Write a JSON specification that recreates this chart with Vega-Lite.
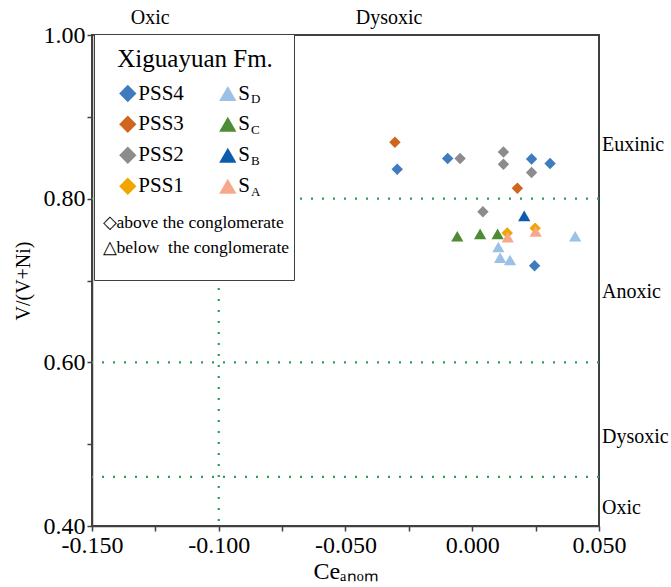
{
  "$schema": "https://vega.github.io/schema/vega-lite/v6.json",
  "width": 507,
  "height": 491,
  "autosize": {"type": "none"},
  "padding": {"left": 92, "top": 35, "right": 72, "bottom": 61},
  "background": "white",
  "config": {
    "view": {"stroke": "#404040", "strokeWidth": 2},
    "axis": {
      "labelFont": "Liberation Serif", "titleFont": "Liberation Serif",
      "labelColor": "black", "titleColor": "black", "titleFontWeight": "normal",
      "domainColor": "#404040", "domainWidth": 1.5, "tickColor": "#404040", "tickWidth": 1.5, "grid": false
    },
    "axisX": {"labelFont": "Liberation Serif", "titleFont": "Liberation Serif"},
    "axisY": {"labelFont": "Liberation Serif", "titleFont": "Liberation Serif"},
    "axisQuantitative": {"labelFont": "Liberation Serif", "titleFont": "Liberation Serif"},
    "legend": {
      "labelFont": "Liberation Serif", "titleFont": "Liberation Serif",
      "titleFontWeight": "normal", "labelColor": "black", "titleColor": "black"
    }
  },
  "datasets": {
    "samples": [
      {"unit": "PSS4", "position": "above", "ce": -0.0296, "v": 0.836},
      {"unit": "PSS4", "position": "above", "ce": -0.0097, "v": 0.849},
      {"unit": "PSS4", "position": "above", "ce": 0.0234, "v": 0.8485},
      {"unit": "PSS4", "position": "above", "ce": 0.0307, "v": 0.843},
      {"unit": "PSS4", "position": "above", "ce": 0.0246, "v": 0.718},
      {"unit": "PSS3", "position": "above", "ce": -0.0305, "v": 0.869},
      {"unit": "PSS3", "position": "above", "ce": 0.0178, "v": 0.8127},
      {"unit": "PSS2", "position": "above", "ce": -0.0048, "v": 0.849},
      {"unit": "PSS2", "position": "above", "ce": 0.0123, "v": 0.857},
      {"unit": "PSS2", "position": "above", "ce": 0.0123, "v": 0.842},
      {"unit": "PSS2", "position": "above", "ce": 0.0234, "v": 0.832},
      {"unit": "PSS2", "position": "above", "ce": 0.0042, "v": 0.784},
      {"unit": "PSS1", "position": "above", "ce": 0.0138, "v": 0.758},
      {"unit": "PSS1", "position": "above", "ce": 0.0248, "v": 0.764},
      {"unit": "SD", "position": "below", "ce": 0.0103, "v": 0.741},
      {"unit": "SD", "position": "below", "ce": 0.011, "v": 0.728},
      {"unit": "SD", "position": "below", "ce": 0.0149, "v": 0.725},
      {"unit": "SD", "position": "below", "ce": 0.0406, "v": 0.754},
      {"unit": "SC", "position": "below", "ce": -0.0059, "v": 0.754},
      {"unit": "SC", "position": "below", "ce": 0.0031, "v": 0.757},
      {"unit": "SC", "position": "below", "ce": 0.01, "v": 0.757},
      {"unit": "SB", "position": "below", "ce": 0.0205, "v": 0.779},
      {"unit": "SA", "position": "below", "ce": 0.014, "v": 0.753},
      {"unit": "SA", "position": "below", "ce": 0.025, "v": 0.76}
    ],
    "hlines": [{"v": 0.8}, {"v": 0.6}, {"v": 0.46}],
    "vlines": [{"ce": -0.1}],
    "rightZones": [
      {"zone": "Euxinic", "v": 0.866},
      {"zone": "Anoxic", "v": 0.686},
      {"zone": "Dysoxic", "v": 0.509},
      {"zone": "Oxic", "v": 0.422}
    ],
    "topZones": [
      {"zone": "Oxic", "ce": -0.127},
      {"zone": "Dysoxic", "ce": -0.0328}
    ]
  },
  "layer": [
    {
      "data": {"name": "hlines"},
      "mark": {"type": "rule", "color": "#2E9D55", "strokeWidth": 2.2, "strokeDash": [2, 9]},
      "encoding": {
        "y": {
          "field": "v", "type": "quantitative",
          "scale": {"domain": [0.4, 1.0], "nice": false, "zero": false},
          "axis": {
            "title": "V/(V+Ni)", "titleFont": "Liberation Serif", "titleFontSize": 20, "titlePadding": 10,
            "values": [0.4, 0.5, 0.6, 0.7, 0.8, 0.9, 1.0],
            "labelExpr": "round(datum.value*10) % 2 == 0 ? format(datum.value, '.2f') : ''",
            "labelFont": "Liberation Serif", "labelFontSize": 24, "labelPadding": 2, "tickSize": 5,
            "labelFlush": false, "labelOverlap": false,
            "encode": {"labels": {"font": {"value": "Liberation Serif"}}, "title": {"font": {"value": "Liberation Serif"}}}
          }
        }
      }
    },
    {
      "data": {"name": "vlines"},
      "mark": {"type": "rule", "color": "#2E9D55", "strokeWidth": 2.2, "strokeDash": [2, 9]},
      "encoding": {
        "x": {
          "field": "ce", "type": "quantitative",
          "scale": {"domain": [-0.15, 0.05], "nice": false, "zero": false},
          "axis": {
            "title": "Ceₐₙₒₘ", "titleFont": "Liberation Serif", "titleFontSize": 24, "titlePadding": 2,
            "values": [-0.15, -0.125, -0.1, -0.075, -0.05, -0.025, 0, 0.025, 0.05],
            "labelExpr": "abs(round(datum.value*1000)) % 50 == 0 ? replace(format(datum.value, '.3f'), '−', '-') : ''",
            "labelFont": "Liberation Serif", "labelFontSize": 24, "labelPadding": 2, "tickSize": 5,
            "labelFlush": false, "labelOverlap": false,
            "encode": {"labels": {"font": {"value": "Liberation Serif"}}, "title": {"font": {"value": "Liberation Serif"}}}
          }
        }
      }
    },
    {
      "data": {"name": "samples"},
      "mark": {"type": "point", "filled": true, "opacity": 1, "strokeWidth": 0},
      "encoding": {
        "x": {"field": "ce", "type": "quantitative", "scale": {"domain": [-0.15, 0.05], "nice": false, "zero": false}},
        "y": {"field": "v", "type": "quantitative", "scale": {"domain": [0.4, 1.0], "nice": false, "zero": false}},
        "shape": {
          "field": "unit", "type": "nominal",
          "scale": {
            "domain": ["PSS4", "PSS3", "PSS2", "PSS1", "SD", "SC", "SB", "SA"],
            "range": ["diamond", "diamond", "diamond", "diamond", "triangle-up", "triangle-up", "triangle-up", "triangle-up"]
          },
          "legend": {
            "orient": "none", "legendX": 25.3, "legendY": 11.5,
            "title": "Xiguayuan Fm.", "titleFontSize": 25, "titlePadding": 6.5, "titleAnchor": "start",
            "columns": 2, "columnPadding": 33, "rowPadding": 0, "clipHeight": 30.5, "padding": 0,
            "symbolSize": 300, "symbolStrokeWidth": 0,
            "labelFontSize": 21, "labelOffset": 0,
            "labelExpr": "indexof(['SD','SC','SB','SA'], datum.label) >= 0 ? 'S' : datum.label"
          }
        },
        "fill": {
          "field": "unit", "type": "nominal",
          "scale": {
            "domain": ["PSS4", "PSS3", "PSS2", "PSS1", "SD", "SC", "SB", "SA"],
            "range": ["#3F7CBF", "#D0661D", "#8C8C8C", "#F0A500", "#9BC2E6", "#4E8B35", "#0B5CAD", "#F7A88A"]
          },
          "legend": {
            "orient": "none", "legendX": 25.3, "legendY": 11.5,
            "title": "Xiguayuan Fm.", "titleFontSize": 25, "titlePadding": 6.5, "titleAnchor": "start",
            "columns": 2, "columnPadding": 33, "rowPadding": 0, "clipHeight": 30.5, "padding": 0,
            "symbolSize": 300, "symbolStrokeWidth": 0,
            "labelFontSize": 21, "labelOffset": 0,
            "labelExpr": "indexof(['SD','SC','SB','SA'], datum.label) >= 0 ? 'S' : datum.label"
          }
        },
        "size": {
          "field": "position", "type": "ordinal",
          "scale": {"domain": ["above", "below"], "range": [130, 150]},
          "legend": {
            "orient": "none", "legendX": 2, "legendY": -1,
            "title": " ", "titleFontSize": 10, "titlePadding": 166.7,
            "fillColor": "white", "strokeColor": "#404040", "padding": 4,
            "rowPadding": 5.5, "symbolOpacity": 0,
            "labelFontSize": 17.5, "labelOffset": -13, "labelLimit": 400,
            "labelExpr": "datum.label == 'above' ? '◇above the conglomerate' : ['△below\u00a0 the conglomerate', ' ']"
          }
        },
        "opacity": {
          "field": "unit", "type": "ordinal",
          "scale": {"range": [1, 1]},
          "legend": {
            "orient": "none", "legendX": 146, "legendY": 48.75,
            "title": null, "values": ["SD", "SC", "SB", "SA"],
            "rowPadding": 0, "clipHeight": 30.5, "padding": 0,
            "symbolSize": 0, "symbolFillColor": "transparent", "symbolStrokeColor": "transparent",
            "labelFontSize": 13, "labelOffset": 0,
            "labelExpr": "substring(datum.label, 1)"
          }
        }
      }
    },
    {
      "data": {"name": "rightZones"},
      "mark": {"type": "text", "align": "left", "baseline": "middle", "dx": 3, "fontSize": 20, "font": "Liberation Serif", "color": "black"},
      "encoding": {
        "x": {"datum": 0.05, "type": "quantitative", "scale": {"domain": [-0.15, 0.05], "nice": false, "zero": false}},
        "y": {"field": "v", "type": "quantitative", "scale": {"domain": [0.4, 1.0], "nice": false, "zero": false}},
        "text": {"field": "zone"}
      }
    },
    {
      "data": {"name": "topZones"},
      "mark": {"type": "text", "align": "center", "baseline": "middle", "dy": -17, "fontSize": 20, "font": "Liberation Serif", "color": "black"},
      "encoding": {
        "x": {"field": "ce", "type": "quantitative", "scale": {"domain": [-0.15, 0.05], "nice": false, "zero": false}},
        "y": {"datum": 1.0, "type": "quantitative", "scale": {"domain": [0.4, 1.0], "nice": false, "zero": false}},
        "text": {"field": "zone"}
      }
    }
  ]
}
